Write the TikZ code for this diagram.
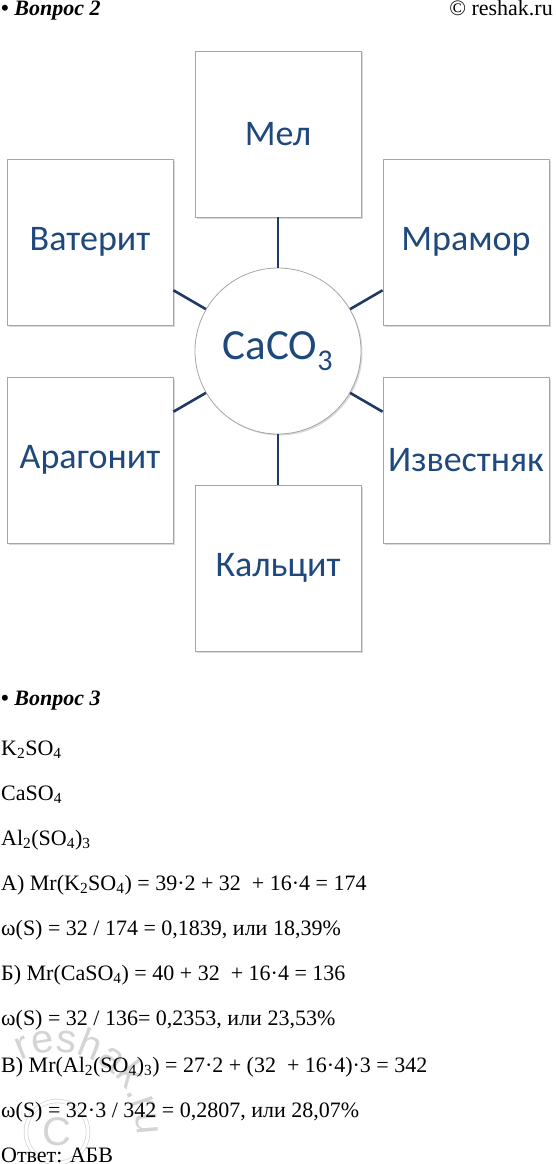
\documentclass[tikz,border=0pt]{standalone}
\usepackage{fontspec}
\setmainfont{Liberation Serif}
\newfontfamily\diagfont{Carlito}
\newfontfamily\markfont{Liberation Sans}
\definecolor{boxBorder}{HTML}{A6A6A6}
\definecolor{linkNavy}{HTML}{1F3864}
\definecolor{labelBlue}{HTML}{1F497D}
\definecolor{markGray}{HTML}{D4D4D4}
\usetikzlibrary{shadows, decorations.text}

\tikzset{
  mineralBox/.style={draw=boxBorder, fill=white, line width=0.8pt, inner sep=0pt,
    minimum width=166pt, minimum height=166pt, text=labelBlue,
    font=\diagfont\fontsize{36}{40}\selectfont,
    drop shadow={shadow xshift=1.5pt, shadow yshift=-1.5pt, opacity=0.3}},
  linkLine/.style={draw=linkNavy, line width=2.6pt},
  textLine/.style={anchor=base west, inner sep=0pt, font=\fontsize{22}{26}\selectfont}
}

\begin{document}
\begin{tikzpicture}[x=1pt, y=-1pt]
  \useasboundingbox (0,0) rectangle (555,1164);

  % header
  \node[textLine] (q2) at (1,16) {\textbf{•} \textbf{\textit{Вопрос 2}}};
  \node[textLine, anchor=base east] (site) at (553,16) {© reshak.ru};

  % diagram
  \node[circle, draw=boxBorder, fill=white, line width=0.8pt, minimum size=166pt,
        text=labelBlue, font=\diagfont\fontsize{43}{46}\selectfont,
        drop shadow={shadow xshift=1.5pt, shadow yshift=-1.5pt, opacity=0.3}]
        (caco) at (278,351) {CaCO\textsubscript{3}};
  \node[mineralBox] (mel) at (278,134) {Мел};
  \node[mineralBox] (vaterit) at (90,242) {Ватерит};
  \node[mineralBox] (mramor) at (466,242) {Мрамор};
  \node[mineralBox] (aragonit) at (90,460) {Арагонит};
  \node[mineralBox] (izvest) at (466,460) {Известняк};
  \node[mineralBox] (kalcit) at (278,568) {Кальцит};

  \foreach \m in {mel, vaterit, mramor, aragonit, izvest, kalcit}
    \draw[linkLine] (caco) -- (\m);

  % watermark
  \node[circle, draw=markGray, double=white, double distance=3pt, line width=0.7pt,
        minimum size=62pt, inner sep=0pt, text=markGray,
        font=\markfont\fontsize{40}{40}\selectfont] (wcopy) at (57,1132) {C};
  \path[decorate, decoration={text along path, text align=center,
        text={|\markfont\fontsize{40}{40}\selectfont\color{markGray}|reshak.ru}}]
        (wcopy.center) ++(122:80pt) arc[start angle=122, end angle=-8, radius=80pt];

  % question 3
  \node[textLine] (q3) at (1,705) {\textbf{•} \textbf{\textit{Вопрос 3}}};
  \node[textLine] (f1) at (1,755) {K\textsubscript{2}SO\textsubscript{4}};
  \node[textLine] (f2) at (1,800) {CaSO\textsubscript{4}};
  \node[textLine] (f3) at (1,845) {Al\textsubscript{2}(SO\textsubscript{4})\textsubscript{3}};
  \node[textLine] (a1) at (1,890) {А) Mr(K\textsubscript{2}SO\textsubscript{4}) = 39·2 + 32 \ + 16·4 = 174};
  \node[textLine] (a2) at (1,935) {ω(S) = 32 / 174 = 0,1839, или 18,39\%};
  \node[textLine] (b1) at (1,980) {Б) Mr(CaSO\textsubscript{4}) = 40 + 32 \ + 16·4 = 136};
  \node[textLine] (b2) at (1,1025) {ω(S) = 32 / 136= 0,2353, или 23,53\%};
  \node[textLine] (c1) at (1,1072) {В) Mr(Al\textsubscript{2}(SO\textsubscript{4})\textsubscript{3}) = 27·2 + (32 \ + 16·4)·3 = 342};
  \node[textLine] (c2) at (1,1117) {ω(S) = 32·3 / 342 = 0,2807, или 28,07\%};
  \node[textLine] (ans) at (1,1162) {Ответ: АБВ};
\end{tikzpicture}
\end{document}
